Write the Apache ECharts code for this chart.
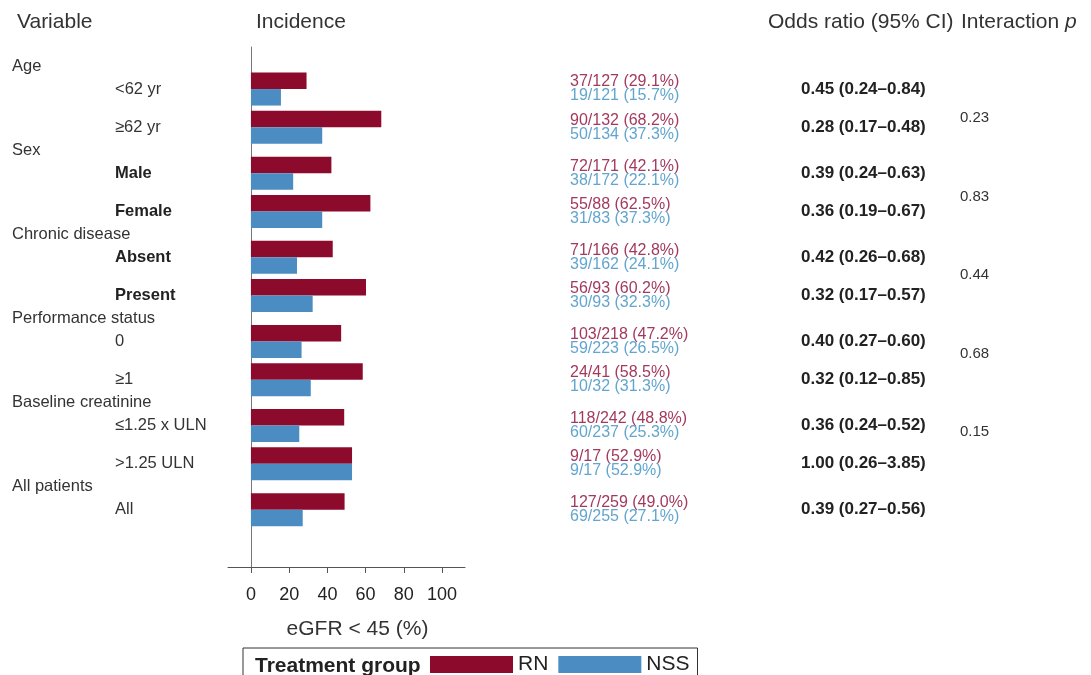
<!DOCTYPE html>
<html>
<head>
<meta charset="utf-8">
<script src="https://cdn.jsdelivr.net/npm/echarts@6/dist/echarts.min.js"></script>
<style>
  html, body { margin: 0; padding: 0; background: #ffffff; }
  #chart { width: 1091px; height: 675px; }
</style>
</head>
<body>
<div id="chart"></div>
<script>
// ---- data -------------------------------------------------------------
const groups = ['Age', 'Sex', 'Chronic disease', 'Performance status', 'Baseline creatinine', 'All patients'];
const groupSizes = [2, 2, 2, 2, 2, 1];
const subgroups = ['<62 yr', '≥62 yr', 'Male', 'Female', 'Absent', 'Present', '0', '≥1', '≤1.25 x ULN', '>1.25 ULN', 'All'];

const rnCount  = ['37/127', '90/132', '72/171', '55/88', '71/166', '56/93', '103/218', '24/41', '118/242', '9/17', '127/259'];
const rnPct    = [29.1, 68.2, 42.1, 62.5, 42.8, 60.2, 47.2, 58.5, 48.8, 52.9, 49.0];
const nssCount = ['19/121', '50/134', '38/172', '31/83', '39/162', '30/93', '59/223', '10/32', '60/237', '9/17', '69/255'];
const nssPct   = [15.7, 37.3, 22.1, 37.3, 24.1, 32.3, 26.5, 31.3, 25.3, 52.9, 27.1];

const orEst  = ['0.45', '0.28', '0.39', '0.36', '0.42', '0.32', '0.40', '0.32', '0.36', '1.00', '0.39'];
const orLow  = ['0.24', '0.17', '0.24', '0.19', '0.26', '0.17', '0.27', '0.12', '0.24', '0.26', '0.27'];
const orHigh = ['0.84', '0.48', '0.63', '0.67', '0.68', '0.57', '0.60', '0.85', '0.52', '3.85', '0.56'];

const interactionP = ['0.23', '0.83', '0.44', '0.68', '0.15'];

const xTicks = [0, 20, 40, 60, 80, 100];

// ---- row layout on a fine category scale --------------------------------
// each group: header line, then its rows; rows inside a group are 5 steps apart,
// header sits 3 steps above its first row.
const TOTAL_SLOTS = 68;
const slotNames = [];
for (let i = 0; i < TOTAL_SLOTS; i++) slotNames.push('s' + i);
const rowSlot = [];
const headerSlot = [];
let cursor = 2;
groupSizes.forEach((n) => {
  headerSlot.push(cursor);
  cursor += 3;
  for (let k = 0; k < n; k++) {
    rowSlot.push(cursor);
    cursor += (k < n - 1) ? 5 : 3;
  }
});
const rowAt = {};
rowSlot.forEach((s, i) => { rowAt['s' + s] = i; });
const headerAt = {};
headerSlot.forEach((s, i) => { headerAt['s' + s] = i; });

const boldRows = new Set(['Male', 'Female', 'Absent', 'Present']);

// ---- styling ------------------------------------------------------------
const FONT = "'Liberation Sans', Arial, sans-serif";
const RED = '#8c0b2c';
const BLUE = '#4b8dc2';
const RED_TXT = '#a33a5e';
const BLUE_TXT = '#62a5cf';
const INK = '#333333';

const hiddenLine = { show: false, onZero: false };
const headStyle = { fontFamily: FONT, fontSize: 21, fontWeight: 'normal', color: INK };

const chart = echarts.init(document.getElementById('chart'), null, { renderer: 'canvas' });

chart.setOption({
  animation: false,
  backgroundColor: '#ffffff',
  textStyle: { fontFamily: FONT },
  title: [
    { text: 'Variable', left: 12, top: 7, textStyle: headStyle },
    { text: 'Incidence', left: 251, top: 7, textStyle: headStyle },
    { text: 'Odds ratio (95% CI)', left: 763, top: 7, textStyle: headStyle },
    {
      text: '{a|Interaction }{i|p}', left: 956, top: 7,
      textStyle: {
        fontFamily: FONT, fontSize: 21, fontWeight: 'normal', color: INK,
        rich: {
          a: { fontFamily: FONT, fontSize: 21, fontWeight: 'normal', color: INK },
          i: { fontFamily: FONT, fontSize: 21, fontWeight: 'normal', color: INK, fontStyle: 'italic' }
        }
      }
    },
    { text: 'Treatment group', left: 250, top: 651, textStyle: { fontFamily: FONT, fontSize: 21, fontWeight: 'bold', color: '#222' } }
  ],
  legend: {
    data: ['RN', 'NSS'],
    left: 243,
    top: 648,
    padding: [6, 8, 6, 187],
    itemWidth: 83,
    itemHeight: 17,
    itemGap: 10,
    icon: 'rect',
    borderColor: '#333',
    borderWidth: 1,
    borderRadius: 0,
    selectedMode: false,
    textStyle: { fontFamily: FONT, fontSize: 21, color: '#222' }
  },
  grid: [
    { left: 228, right: 626, top: 47, bottom: 108 },
    { left: 900, width: 55, top: 78.75, height: 392.5 }
  ],
  xAxis: [
    {
      type: 'value',
      gridIndex: 0,
      min: -12,
      max: 112,
      name: 'eGFR < 45 (%)',
      nameLocation: 'middle',
      nameGap: 52,
      nameTextStyle: { fontFamily: FONT, fontSize: 21, color: INK, padding: [0, 0, 0, 22] },
      axisLine: { show: true, onZero: false, lineStyle: { color: '#555', width: 1 } },
      axisTick: { show: true, length: 6, customValues: xTicks, lineStyle: { color: '#555' } },
      axisLabel: { customValues: xTicks, margin: 19, fontFamily: FONT, fontSize: 18, color: '#222' },
      splitLine: { show: false }
    },
    { type: 'value', gridIndex: 1, show: false }
  ],
  yAxis: [
    // bar positions; axis line drawn at x = 0
    {
      type: 'category', gridIndex: 0, data: slotNames, inverse: true,
      axisLine: { show: true, onZero: true, lineStyle: { color: '#777', width: 1 } },
      axisTick: { show: false }, axisLabel: { show: false }, splitLine: { show: false }
    },
    // subgroup labels
    {
      type: 'category', gridIndex: 0, data: slotNames, inverse: true, position: 'left',
      axisLine: hiddenLine, axisTick: { show: false },
      axisLabel: {
        interval: 0, align: 'left', margin: 113,
        formatter: (v) => {
          const i = rowAt[v];
          if (i === undefined) return '';
          const name = subgroups[i];
          return boldRows.has(name) ? '{b|' + name + '}' : '{n|' + name + '}';
        },
        rich: {
          n: { fontFamily: FONT, fontSize: 16.5, color: INK },
          b: { fontFamily: FONT, fontSize: 16.5, color: '#222', fontWeight: 'bold' }
        }
      }
    },
    // group headers
    {
      type: 'category', gridIndex: 0, data: slotNames, inverse: true, position: 'left',
      axisLine: hiddenLine, axisTick: { show: false },
      axisLabel: {
        interval: 0, align: 'left', margin: 216,
        fontFamily: FONT, fontSize: 16.5, color: INK,
        formatter: (v) => (headerAt[v] === undefined ? '' : groups[headerAt[v]])
      }
    },
    // incidence counts per treatment group
    {
      type: 'category', gridIndex: 0, data: slotNames, inverse: true, position: 'right',
      axisLine: hiddenLine, axisTick: { show: false },
      axisLabel: {
        interval: 0, align: 'left', margin: 105,
        formatter: (v) => {
          const i = rowAt[v];
          if (i === undefined) return '';
          return '{r|' + rnCount[i] + ' (' + rnPct[i].toFixed(1) + '%)}\n' +
                 '{b|' + nssCount[i] + ' (' + nssPct[i].toFixed(1) + '%)}';
        },
        rich: {
          r: { fontFamily: FONT, fontSize: 16, color: RED_TXT, lineHeight: 14 },
          b: { fontFamily: FONT, fontSize: 16, color: BLUE_TXT, lineHeight: 14 }
        }
      }
    },
    // odds ratios
    {
      type: 'category', gridIndex: 0, data: slotNames, inverse: true, position: 'right',
      axisLine: hiddenLine, axisTick: { show: false },
      axisLabel: {
        interval: 0, align: 'left', margin: 336,
        fontFamily: FONT, fontSize: 17, fontWeight: 'bold', color: '#222',
        formatter: (v) => {
          const i = rowAt[v];
          if (i === undefined) return '';
          return orEst[i] + ' (' + orLow[i] + '–' + orHigh[i] + ')';
        }
      }
    },
    // interaction p values, one per grouped variable
    {
      type: 'category', gridIndex: 1, data: interactionP, inverse: true, position: 'right',
      axisLine: hiddenLine, axisTick: { show: false },
      axisLabel: { interval: 0, align: 'left', margin: 5, fontFamily: FONT, fontSize: 15, color: INK }
    }
  ],
  series: [
    {
      name: 'RN', type: 'bar', xAxisIndex: 0, yAxisIndex: 0,
      barWidth: 16.5, barGap: '0%',
      itemStyle: { color: RED },
      data: rnPct.map((v, i) => [v, 's' + rowSlot[i]])
    },
    {
      name: 'NSS', type: 'bar', xAxisIndex: 0, yAxisIndex: 0,
      barWidth: 16.5, barGap: '0%',
      itemStyle: { color: BLUE },
      data: nssPct.map((v, i) => [v, 's' + rowSlot[i]])
    }
  ]
});
</script>
</body>
</html>
